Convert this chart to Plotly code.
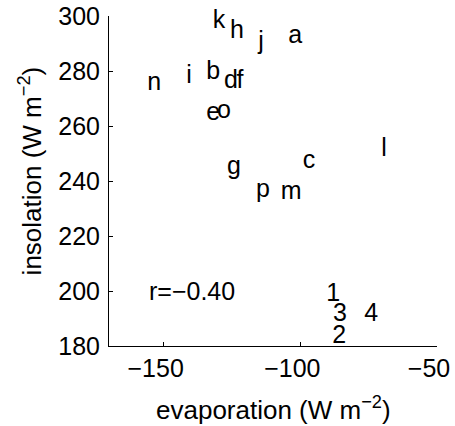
import plotly.graph_objects as go

# Labelled sites: evaporation vs. insolation
labels = ["a", "b", "c", "d", "e", "f", "g", "h", "i", "j", "k", "l", "m", "n", "o", "p",
          "1", "2", "3", "4"]
evaporation = [-101.9, -131.9, -96.8, -125.4, -131.9, -122.1, -124.3, -123.2, -140.7, -114.4,
               -129.8, -69.4, -103.4, -153.5, -127.9, -113.7,
               -88.0, -85.8, -85.5, -74.1]
insolation = [292.4, 279.3, 246.9, 276.0, 264.3, 276.0, 244.7, 294.2, 277.8, 290.2,
              297.8, 251.2, 235.9, 275.3, 265.1, 236.3,
              198.5, 183.2, 191.2, 191.2]
corr_text = "r=−0.40"
corr_pos = (-156, 200)

x_ticks = [-150, -100, -50]
y_ticks = [180, 200, 220, 240, 260, 280, 300]

FONT = "Liberation Sans, Arial, sans-serif"

fig = go.Figure()
fig.add_trace(go.Scatter(
    x=evaporation, y=insolation, mode="text", text=labels,
    textposition="middle center", cliponaxis=False,
    textfont=dict(family=FONT, size=25, color="black"),
    hoverinfo="skip", showlegend=False,
))

fig.add_annotation(
    x=corr_pos[0], y=corr_pos[1], text=corr_text, showarrow=False,
    xanchor="left", yanchor="middle",
    font=dict(family=FONT, size=25, color="black"),
)

# Axis titles placed as paper-anchored annotations
fig.add_annotation(
    xref="paper", yref="paper", x=0.5, y=-0.19, text="evaporation (W m<sup>−2</sup>)",
    showarrow=False, xanchor="center", yanchor="middle",
    font=dict(family=FONT, size=26, color="black"),
)
fig.add_annotation(
    xref="paper", yref="paper", x=-0.24, y=0.53, text="insolation (W m<sup>−2</sup>)",
    showarrow=False, xanchor="center", yanchor="middle", textangle=-90,
    font=dict(family=FONT, size=26, color="black"),
)

axis_common = dict(
    showgrid=False, zeroline=False, showline=True, linecolor="black", linewidth=1,
    ticks="inside", ticklen=4, tickcolor="black", tickwidth=1,
    tickfont=dict(family=FONT, size=25, color="black"),
    mirror=False, automargin=False, ticklabeloverflow="allow",
)

fig.update_xaxes(range=[-170, -50], tickvals=x_ticks, ticklabelshift=-8, **axis_common)
fig.update_yaxes(range=[180, 300], tickvals=y_ticks, ticklabelstandoff=3, **axis_common)

fig.update_layout(
    width=455, height=426,
    margin=dict(l=109, r=18, t=16, b=80),
    paper_bgcolor="white", plot_bgcolor="white",
    font=dict(family=FONT, color="black"),
)

fig.write_html("out.html")
